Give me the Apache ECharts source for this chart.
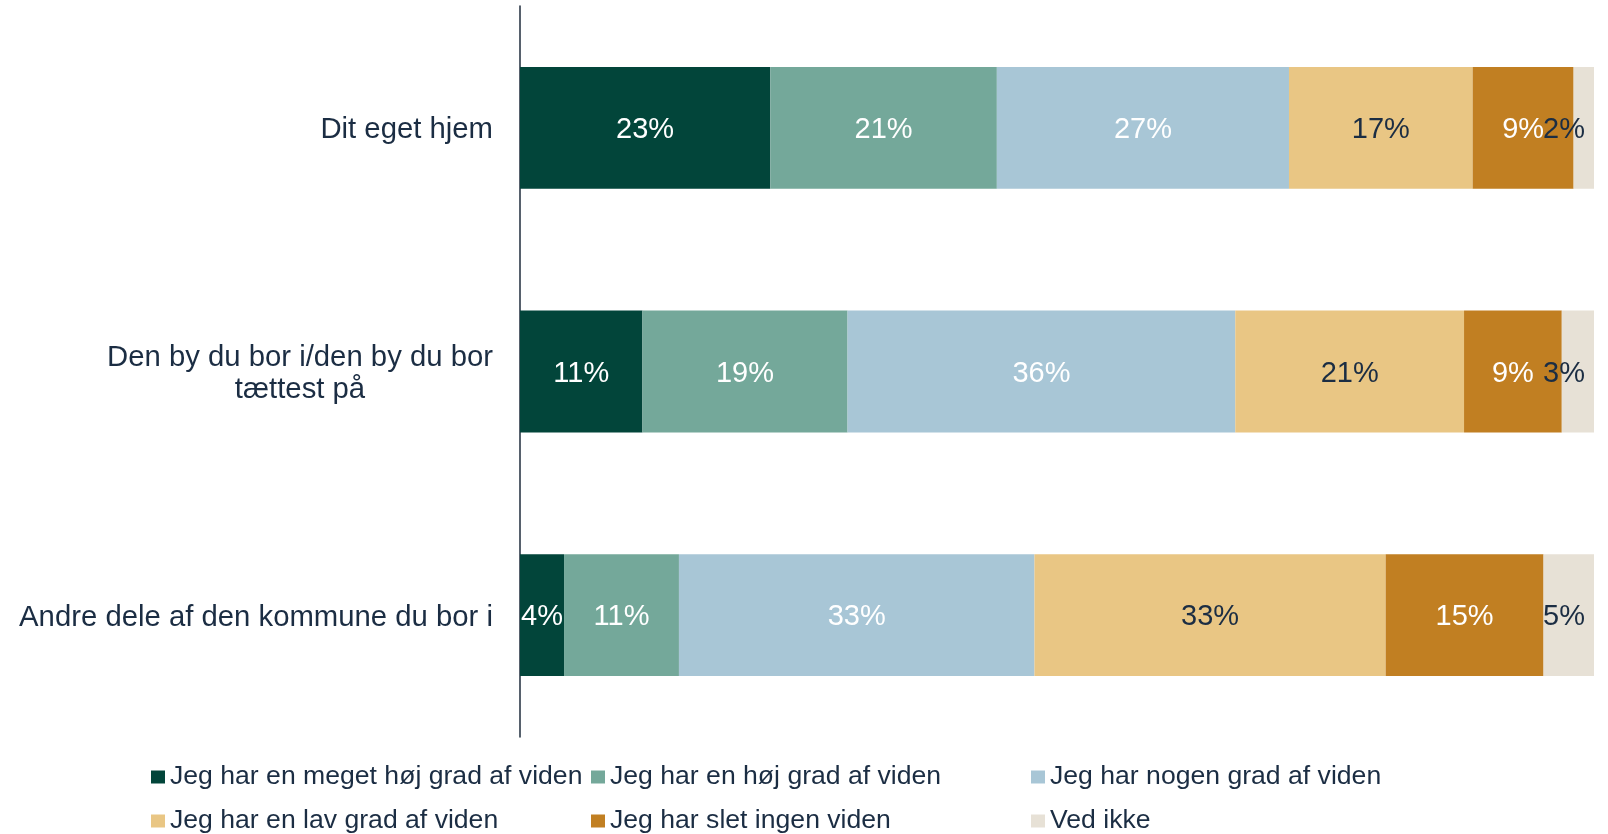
<!DOCTYPE html>
<html>
<head>
<meta charset="utf-8">
<script src="https://cdn.jsdelivr.net/npm/echarts@6/dist/echarts.min.js"></script>
<style>html,body{margin:0;padding:0;background:#fff}#c{width:1608px;height:834px}</style>
</head>
<body>
<div id="c"></div>
<script>
const categories = ["Dit eget hjem", "Den by du bor i/den by du bor\ntættest på", "Andre dele af den kommune du bor i"];
const seriesNames = ["Jeg har en meget høj grad af viden", "Jeg har en høj grad af viden", "Jeg har nogen grad af viden", "Jeg har en lav grad af viden", "Jeg har slet ingen viden", "Ved ikke"];
const meget = [23.3, 11.4, 4.1];
const hoej = [21.1, 19.1, 10.7];
const nogen = [27.2, 36.1, 33.1];
const lav = [17.1, 21.3, 32.7];
const ingen = [9.4, 9.1, 14.7];
const vedIkke = [1.9, 3.1, 4.7];
const values = [meget, hoej, nogen, lav, ingen, vedIkke];
const colors = ["#02453A", "#74A89A", "#A8C6D6", "#E9C684", "#C17F22", "#E7E1D6"];
const labelColors = ["#ffffff", "#ffffff", "#ffffff", "#1B2D43", "#ffffff", "#1B2D43"];
const textDark = "#1B2D43";
const font = "'Liberation Sans', Arial, sans-serif";

const chart = echarts.init(document.getElementById('c'), null, {renderer: 'canvas'});
const legendLeft = [151, 591, 1031];
const legendTop = [762, 806];
const legends = seriesNames.map((n, i) => ({
  data: [n],
  left: legendLeft[i % 3],
  top: legendTop[Math.floor(i / 3)],
  icon: 'rect',
  itemWidth: 14,
  itemHeight: 13,
  itemGap: 0,
  padding: 0,
  selectedMode: false,
  textStyle: {fontFamily: font, fontSize: 26.6, color: textDark, lineHeight: 30}
}));
chart.setOption({
  animation: false,
  color: colors,
  grid: {left: 520, right: 14, top: 6, bottom: 97, containLabel: false},
  legend: legends,
  xAxis: {type: 'value', min: 0, max: 100, show: false, splitLine: {show: false}},
  yAxis: {
    type: 'category', data: categories, inverse: true,
    axisLine: {show: true, lineStyle: {color: '#1F2D3D', width: 1.5}},
    axisTick: {show: false},
    axisLabel: {
      margin: 27,
      formatter: v => v.split('\n').map(l => '{a|' + l + '}').join('\n'),
      rich: {a: {fontFamily: font, fontSize: 29.3, color: textDark, lineHeight: 32, align: 'center', padding: [5, 0, 0, 0]}}
    }
  },
  series: seriesNames.map((n, i) => ({
    name: n, type: 'bar', stack: 'total', barWidth: '50%',
    data: values[i],
    itemStyle: {color: colors[i]},
    label: {
      show: true,
      position: i === 5 ? 'insideRight' : 'inside',
      distance: 9,
      offset: [0, 2],
      formatter: p => Math.round(p.value) + '%',
      fontFamily: font, fontSize: 29, color: labelColors[i]
    }
  }))
});
</script>
</body>
</html>
